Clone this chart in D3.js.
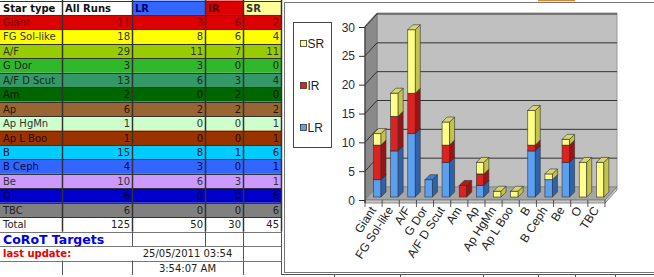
<!DOCTYPE html>
<html>
<head>
<meta charset="utf-8">
<script src="https://cdn.jsdelivr.net/npm/d3@7"></script>
<style>
  body { margin: 0; background: #fff; }
  svg { display: block; }
</style>
</head>
<body>
<div id="vis-holder"></div>
<script>
// Data read from the sheet
const types = ["Giant", "FG Sol-like", "A/F", "G Dor", "A/F D Scut", "Am", "Ap", "Ap HgMn", "Ap L Boo", "B", "B Ceph", "Be", "O", "TBC"];
const allRuns = [11, 18, 29, 3, 13, 2, 6, 1, 1, 15, 4, 10, 6, 6];
const lrRuns = [3, 8, 11, 3, 6, 0, 2, 0, 0, 8, 3, 6, 0, 0];
const irRuns = [6, 6, 7, 0, 3, 2, 2, 0, 0, 1, 0, 3, 0, 0];
const srRuns = [2, 4, 11, 0, 4, 0, 2, 1, 1, 6, 1, 1, 6, 6];
const headers = ["Star type", "All Runs", "LR", "IR", "SR"];
const totals = [125, 50, 30, 45];
const yTicks = [0, 5, 10, 15, 20, 25, 30];
const seriesKeys = ["LR", "IR", "SR"];

// row colours [background, text]
const rowColors = [
  ["#dd0000", "#6a0000"], ["#ffff00", "#333"], ["#99cc00", "#333"], ["#2fb82a", "#222"],
  ["#339966", "#1a2a1a"], ["#006600", "#001a00"], ["#996633", "#2a1500"], ["#ccffcc", "#333"],
  ["#993300", "#2a0a00"], ["#00ccff", "#113"], ["#3366ff", "#0a1030"], ["#cc99ff", "#333"],
  ["#0000cc", "#000022"], ["#808080", "#222"]
];

const width = 654, height = 277;
const svg = d3.select("#vis-holder").append("svg")
    .attr("width", width)
    .attr("height", height);

// ---------------- Table ----------------
const colX = [0, 62, 132, 205, 243, 281];
const rowH = 14.45;
const rowY = (i) => 0.5 + i * rowH;
const table = svg.append("g").attr("font-family", "'DejaVu Sans', Verdana, sans-serif").attr("font-size", "10px");

// header
const headFill = ["#fff", "#fff", "#3366ff", "#dd0000", "#ffff99"];
const headText = ["#111", "#111", "#000066", "#550000", "#333"];
headers.forEach((h, c) => {
  table.append("rect").attr("x", colX[c]).attr("y", rowY(0))
      .attr("width", colX[c + 1] - colX[c]).attr("height", rowH).attr("fill", headFill[c]);
  table.append("text").attr("x", colX[c] + 3).attr("y", rowY(0) + 11)
      .attr("font-weight", "bold").attr("fill", headText[c]).text(h);
});

// body rows
types.forEach((t, i) => {
  const r = i + 1;
  const vals = [allRuns[i], lrRuns[i], irRuns[i], srRuns[i]];
  table.append("rect").attr("x", 0).attr("y", rowY(r)).attr("width", colX[5]).attr("height", rowH)
      .attr("fill", rowColors[i][0]);
  table.append("text").attr("x", 3).attr("y", rowY(r) + 11).attr("fill", rowColors[i][1]).text(t);
  vals.forEach((v, c) => {
    table.append("text").attr("x", colX[c + 2] - 2).attr("y", rowY(r) + 11)
        .attr("text-anchor", "end").attr("fill", rowColors[i][1]).text(v);
  });
});

// total row
const rTot = types.length + 1;
table.append("text").attr("x", 3).attr("y", rowY(rTot) + 11).attr("fill", "#222").text("Total");
totals.forEach((v, c) => {
  table.append("text").attr("x", colX[c + 2] - 2).attr("y", rowY(rTot) + 11)
      .attr("text-anchor", "end").attr("fill", "#222").text(v);
});
table.append("text").attr("x", 3).attr("y", rowY(rTot + 1) + 12.5).attr("fill", "#0000ee")
    .attr("font-weight", "bold").attr("font-size", "12.5px").text("CoRoT Targets");
table.append("text").attr("x", 3).attr("y", rowY(rTot + 2) + 11).attr("fill", "#ee0000")
    .attr("font-weight", "bold").text("last update:");
table.append("text").attr("x", (colX[2] + colX[4]) / 2).attr("y", rowY(rTot + 2) + 11)
    .attr("text-anchor", "middle").attr("fill", "#222").text("25/05/2011 03:54");
table.append("text").attr("x", (colX[2] + colX[4]) / 2).attr("y", rowY(rTot + 3) + 11)
    .attr("text-anchor", "middle").attr("fill", "#222").text("3:54:07 AM");

// grid lines
const grid = table.append("g").attr("stroke", "#333").attr("fill", "none");
for (let r = 0; r <= rTot + 3; r++) {
  grid.append("line").attr("x1", 0).attr("x2", colX[5])
      .attr("y1", Math.round(rowY(r)) + 0.5).attr("y2", Math.round(rowY(r)) + 0.5)
      .attr("stroke-width", r <= rTot ? 1 : 0.8).attr("stroke", r <= rTot ? "#333" : "#555");
}
colX.slice(1).forEach((x) => {
  grid.append("line").attr("x1", x + 0.5).attr("x2", x + 0.5).attr("y1", 0).attr("y2", rowY(rTot + 1))
      .attr("stroke-width", 1.5);
});
// spanning rows below the totals
[[rTot + 1, [132, 205, 243, 281]], [rTot + 2, [243, 281]], [rTot + 3, [62, 132, 243, 281]]].forEach(([r, xs]) => {
  xs.forEach((x) => {
    grid.append("line").attr("x1", x + 0.5).attr("x2", x + 0.5)
        .attr("y1", rowY(r)).attr("y2", Math.min(rowY(r + 1), height))
        .attr("stroke", "#555").attr("stroke-width", 1);
  });
});

// sheet grid lines peeking around the chart object
const peek = svg.append("g").attr("stroke", "#555").attr("stroke-width", 1);
peek.append("line").attr("x1", 281).attr("x2", width).attr("y1", 274.5).attr("y2", 274.5);
[334, 400, 483, 538, 575, 615].forEach((x) => {
  peek.append("line").attr("x1", x + 0.5).attr("x2", x + 0.5).attr("y1", 274).attr("y2", height);
});
svg.append("line").attr("x1", 538).attr("x2", 575).attr("y1", 0.5).attr("y2", 0.5)
    .attr("stroke", "#d08a30").attr("stroke-width", 1.5);

// ---------------- Chart object ----------------
const chart = svg.append("g").attr("font-family", "'Liberation Sans', Arial, sans-serif");
chart.append("rect").attr("x", 284.5).attr("y", 2.5).attr("width", 380).attr("height", 270)
    .attr("fill", "#fff").attr("stroke", "#777").attr("stroke-width", 1);

const x = d3.scaleBand().domain(types).range([365, 605]);
const y = d3.scaleLinear().domain([0, 30]).range([200, 27]);
const dx = 12, dy = -13;      // wall depth
const y0 = y(0), y1 = y(30);
const xl = x.range()[0], xr = x.range()[1];

// back wall, left wall, floor
chart.append("polygon")
    .attr("points", [[xl + dx, y0 + dy], [xr + dx, y0 + dy], [xr + dx, y1 + dy - 1], [xl + dx, y1 + dy - 1]].join(" "))
    .attr("fill", "#c0c0c0").attr("stroke", "#999");
chart.append("polygon")
    .attr("points", [[xl, y0], [xl + dx, y0 + dy], [xl + dx, y1 + dy - 1], [xl, y1 - 1]].join(" "))
    .attr("fill", "#8a8a8a").attr("stroke", "#777");
chart.append("polygon")
    .attr("points", [[xl, y0], [xr, y0], [xr + dx, y0 + dy], [xl + dx, y0 + dy]].join(" "))
    .attr("fill", "#a6a6a6").attr("stroke", "#888");
// floor plate thickness
chart.append("polygon")
    .attr("points", [[xl, y0], [xr, y0], [xr + dx, y0 + dy], [xr + dx, y0 + dy + 3], [xr, y0 + 3], [xl, y0 + 3]].join(" "))
    .attr("fill", "#c8c8c8").attr("stroke", "#777").attr("stroke-width", 0.8);

// gridlines on walls
yTicks.forEach((t) => {
  if (t === 0) return;
  chart.append("polyline")
      .attr("points", [[xl, y(t)], [xl + dx, y(t) + dy], [xr + dx, y(t) + dy]].join(" "))
      .attr("fill", "none").attr("stroke", "#333").attr("stroke-width", 1);
});

// y axis
const yAxis = chart.append("g");
yAxis.append("line").attr("x1", xl).attr("x2", xl).attr("y1", y(30)).attr("y2", y0 + 3).attr("stroke", "#333");
yTicks.forEach((t) => {
  yAxis.append("line").attr("x1", xl - 6).attr("x2", xl).attr("y1", y(t) + 0.5).attr("y2", y(t) + 0.5).attr("stroke", "#333");
  yAxis.append("text").attr("x", xl - 10).attr("y", y(t) + 4.5).attr("text-anchor", "end")
      .attr("font-size", "12px").attr("fill", "#2a2a40").text(t);
});

// category ticks along the floor front edge
types.concat(["_end"]).forEach((t, i) => {
  const xx = xl + i * x.step();
  chart.append("line").attr("x1", xx).attr("x2", xx).attr("y1", y0).attr("y2", y0 + 7)
      .attr("stroke", "#333").attr("stroke-width", 0.8);
});

// bars
const fills = {
  LR: { front: "#5a9ff0", side: "#2f62a8", top: "#3f7ccc" },
  IR: { front: "#dd2222", side: "#991414", top: "#b01a1a" },
  SR: { front: "#ffff88", side: "#c2c24e", top: "#d6d66a" }
};
const tableData = types.map((t, i) => ({ type: t, LR: lrRuns[i], IR: irRuns[i], SR: srRuns[i] }));
const stack = d3.stack().keys(seriesKeys)(tableData);
const barW = 7.5, bd = 5, bOffX = 8.5, bOffY = -3;

types.forEach((t, i) => {
  const g = chart.append("g");
  const bx = x(t) + bOffX;
  stack.forEach((s) => {
    const [a, b] = s[i];
    if (b - a <= 0) return;
    const c = fills[s.key];
    const yb = y(a) + bOffY, yt = y(b) + bOffY;
    g.append("rect").attr("x", bx).attr("y", yt).attr("width", barW).attr("height", yb - yt)
        .attr("fill", c.front).attr("stroke", "#333").attr("stroke-width", 0.6);
    g.append("polygon")
        .attr("points", [[bx + barW, yb], [bx + barW + bd, yb - bd], [bx + barW + bd, yt - bd], [bx + barW, yt]].join(" "))
        .attr("fill", c.side).attr("stroke", "#333").attr("stroke-width", 0.6);
    g.append("polygon")
        .attr("points", [[bx, yt], [bx + barW, yt], [bx + barW + bd, yt - bd], [bx + bd, yt - bd]].join(" "))
        .attr("fill", c.top).attr("stroke", "#333").attr("stroke-width", 0.6);
  });
});

// category labels
types.forEach((t) => {
  const cx = x(t) + x.bandwidth() / 2 + 3;
  chart.append("text")
      .attr("transform", `translate(${cx},${y0 + 10}) rotate(-57)`)
      .attr("text-anchor", "end").attr("font-size", "12px").attr("fill", "#222").text(t);
});

// legend
const legend = chart.append("g");
legend.append("rect").attr("x", 293.5).attr("y", 22.5).attr("width", 38).attr("height", 125)
    .attr("fill", "#fff").attr("stroke", "#444");
[["SR", 44], ["IR", 86], ["LR", 128]].forEach(([k, ly]) => {
  legend.append("rect").attr("x", 300.5).attr("y", ly - 3.5).attr("width", 6).attr("height", 6)
      .attr("fill", fills[k].front).attr("stroke", "#333").attr("stroke-width", 0.8);
  legend.append("text").attr("x", 307.5).attr("y", ly + 4).attr("font-size", "12px")
      .attr("fill", "#222").text(k);
});
</script>
</body>
</html>
